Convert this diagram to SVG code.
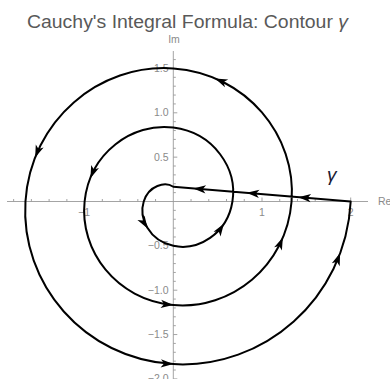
<svg xmlns="http://www.w3.org/2000/svg" xmlns:xlink="http://www.w3.org/1999/xlink" width="390" height="379" viewBox="0 0 390 379">
<style>
.ax{stroke:#9a9a9a;stroke-width:0.9;fill:none}
.tl{font-family:"Liberation Sans",Arial,sans-serif;font-size:10.5px;fill:#8a8a8a}
.curve{stroke:#000;stroke-width:2;fill:none;stroke-linejoin:round}
.ah{fill:#000}
</style>
<defs>
<path id="ah" d="M0,0 L-12.5,-4.2 L-9.3,0 L-12.5,4.2 Z"/>
</defs>
<rect width="390" height="379" fill="#fff"/>
<text id="title" x="27" y="27.8" textLength="321" lengthAdjust="spacingAndGlyphs" font-family="'Liberation Sans',Arial,sans-serif" font-size="18.3" fill="#595959">Cauchy's Integral Formula: Contour <tspan font-style="italic">γ</tspan></text>
<g id="axes">
<path class="ax" d="M7,201.5 H368 M173.3,51 V379"/>
<path class="ax" d="M13.64,201.5v-2.5M31.38,201.5v-2.5M49.12,201.5v-2.5M66.86,201.5v-2.5M84.6,201.5v-4M102.34,201.5v-2.5M120.08,201.5v-2.5M137.82,201.5v-2.5M155.56,201.5v-2.5M191.04,201.5v-2.5M208.78,201.5v-2.5M226.52,201.5v-2.5M244.26,201.5v-2.5M262,201.5v-4M279.74,201.5v-2.5M297.48,201.5v-2.5M315.22,201.5v-2.5M332.96,201.5v-2.5M350.7,201.5v-4"/>
<path class="ax" d="M173.3,59.58h2.5M173.3,68.45h4M173.3,77.32h2.5M173.3,86.19h2.5M173.3,95.06h2.5M173.3,103.93h2.5M173.3,112.8h4M173.3,121.67h2.5M173.3,130.54h2.5M173.3,139.41h2.5M173.3,148.28h2.5M173.3,157.15h4M173.3,166.02h2.5M173.3,174.89h2.5M173.3,183.76h2.5M173.3,192.63h2.5M173.3,210.37h2.5M173.3,219.24h2.5M173.3,228.11h2.5M173.3,236.98h2.5M173.3,245.85h4M173.3,254.72h2.5M173.3,263.59h2.5M173.3,272.46h2.5M173.3,281.33h2.5M173.3,290.2h4M173.3,299.07h2.5M173.3,307.94h2.5M173.3,316.81h2.5M173.3,325.68h2.5M173.3,334.55h4M173.3,343.42h2.5M173.3,352.29h2.5M173.3,361.16h2.5M173.3,370.03h2.5M173.3,378.9h4"/>
<text class="tl" x="174" y="43" text-anchor="middle" font-size="10">Im</text>
<text class="tl" x="378" y="205" font-size="11">Re</text>
<text class="tl" x="84" y="215.5" text-anchor="middle">−1</text>
<text class="tl" x="262" y="215.5" text-anchor="middle">1</text>
<text class="tl" x="350.7" y="215.5" text-anchor="middle">2</text>
<text class="tl" x="168.5" y="72" text-anchor="end">1.5</text>
<text class="tl" x="168.5" y="116.3" text-anchor="end">1.0</text>
<text class="tl" x="168.5" y="160.7" text-anchor="end">0.5</text>
<text class="tl" x="168.5" y="249.4" text-anchor="end">−0.5</text>
<text class="tl" x="168.5" y="293.7" text-anchor="end">−1.0</text>
<text class="tl" x="168.5" y="338.1" text-anchor="end">−1.5</text>
<text class="tl" x="168.5" y="382.4" text-anchor="end">−2.0</text>
</g>
<g id="connectors">
<path class="curve" d="M350.70,201.50 L173.30,186.72 C165.14,181.52 148.93,185.17 143.73,201.50 C138.54,217.83 148.81,240.65 173.30,245.85 C197.79,251.05 227.24,234.16 232.43,201.50 C237.63,168.84 214.12,132.78 173.30,127.58 C132.48,122.38 89.80,152.51 84.60,201.50 C79.40,250.49 116.15,299.79 173.30,304.99 C230.45,310.18 286.37,266.82 291.57,201.50 C296.77,136.18 246.78,73.65 173.30,68.45 C99.820,63.25 30.66,119.85 25.46,201.50 C20.27,283.15 83.49,358.92 173.30,364.12 C263.11,369.32 345.51,299.48 350.70,201.50 Z"/>
<g class="ah">
<use xlink:href="#ah" transform="translate(298.3,197.13) rotate(184.76)"/>
<use xlink:href="#ah" transform="translate(246.7,192.83) rotate(184.76)"/>
<use xlink:href="#ah" transform="translate(193.3,188.38) rotate(184.76)"/>
<use xlink:href="#ah" transform="translate(147.62,228.38) rotate(57.9)"/>
<use xlink:href="#ah" transform="translate(223.9,223.69) rotate(-56.7)"/>
<use xlink:href="#ah" transform="translate(90.41,178.13) rotate(112)"/>
<use xlink:href="#ah" transform="translate(173.3,304.99) rotate(5.2)"/>
<use xlink:href="#ah" transform="translate(282.87,237.38) rotate(-67.2)"/>
<use xlink:href="#ah" transform="translate(215.06,78.42) rotate(202.9)"/>
<use xlink:href="#ah" transform="translate(35.16,157.61) rotate(111.3)"/>
<use xlink:href="#ah" transform="translate(173.3,364.12) rotate(3.3)"/>
<use xlink:href="#ah" transform="translate(340.09,253.02) rotate(-69.75)"/>
</g>
</g>
<g id="gamma-label">
<text x="327" y="181" font-family="'Liberation Sans',Arial,sans-serif" font-size="19" font-style="italic" fill="#1a1a33">γ</text>
</g>
</svg>
